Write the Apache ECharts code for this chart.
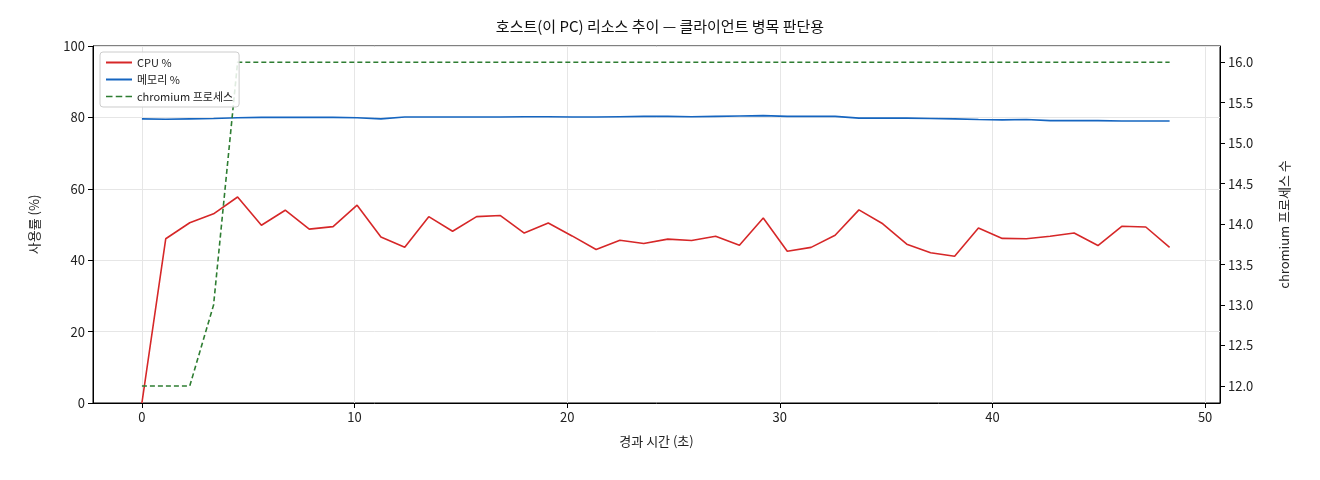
<!DOCTYPE html><html><head><meta charset="utf-8"><script src="https://cdn.jsdelivr.net/npm/echarts@6/dist/echarts.min.js"></script>
<style>body{margin:0}#c{width:1320px;height:480px}</style></head><body><div id="c"></div><script>
const times=[0,1.12,2.25,3.37,4.5,5.62,6.74,7.87,8.99,10.12,11.24,12.36,13.49,14.61,15.74,16.86,17.98,19.11,20.23,21.36,22.48,23.6,24.73,25.85,26.98,28.1,29.22,30.35,31.47,32.6,33.72,34.84,35.97,37.09,38.22,39.34,40.46,41.59,42.71,43.84,44.96,46.08,47.21,48.33];
const cpu=[0,46,50.5,53,57.7,49.8,54,48.7,49.4,55.4,46.5,43.6,52.2,48.1,52.2,52.5,47.6,50.4,46.8,43,45.6,44.7,45.9,45.5,46.7,44.2,51.8,42.5,43.6,47,54.1,50.2,44.5,42.1,41.1,49,46.1,46,46.7,47.6,44.1,49.5,49.3,43.6];
const mem=[79.6,79.5,79.6,79.7,79.9,80,80,80,80,79.9,79.6,80.1,80.1,80.1,80.1,80.1,80.2,80.2,80.1,80.1,80.2,80.3,80.3,80.2,80.3,80.4,80.5,80.3,80.3,80.3,79.8,79.8,79.8,79.7,79.6,79.4,79.3,79.4,79.1,79.1,79.1,79,79,79];
const procs=[12,12,12,13,16,16,16,16,16,16,16,16,16,16,16,16,16,16,16,16,16,16,16,16,16,16,16,16,16,16,16,16,16,16,16,16,16,16,16,16,16,16,16,16];
const rightTicks=[12,12.5,13,13.5,14,14.5,15,15.5,16];
const xTicks=[0,10,20,30,40,50];
const z=(a,b)=>a.map((v,i)=>[times[i],b[i]]);
const f='"Noto Sans CJK KR", "DejaVu Sans", sans-serif';
const ax={color:'#222',fontFamily:f,fontSize:13};
echarts.init(document.getElementById('c')).setOption({
 animation:false,textStyle:{fontFamily:f},
 title:{text:'호스트(이 PC) 리소스 추이 — 클라이언트 병목 판단용',left:'center',top:14,textStyle:{fontSize:15,fontWeight:'normal',color:'#111',fontFamily:f}},
 grid:{left:93,right:100,top:46,bottom:77,show:true,borderColor:'#000',borderWidth:1},
 legend:{left:100,top:52,orient:'vertical',itemGap:6,itemWidth:26,itemHeight:2,backgroundColor:'rgba(255,255,255,0.85)',borderColor:'#ccc',borderWidth:1,borderRadius:3,padding:[5,6],textStyle:{fontSize:11,color:'#222',fontFamily:f},
  data:[{name:'CPU %',icon:'rect'},{name:'메모리 %',icon:'rect'},{name:'chromium 프로세스',icon:'path://M0,0h4v1h-4zM6,0h4v1h-4zM12,0h4v1h-4z'}]},
 xAxis:{type:'value',min:-2.3,max:50.7,name:'경과 시간 (초)',nameLocation:'middle',nameGap:32,nameTextStyle:{fontSize:13,color:'#222'},
  axisLine:{onZero:false,lineStyle:{color:'#000'}},axisTick:{customValues:xTicks,lineStyle:{color:'#000'}},axisLabel:Object.assign({customValues:xTicks},ax),
  splitLine:{show:true,lineStyle:{color:'#e6e6e6'}}},
 yAxis:[{type:'value',min:0,max:100,interval:20,name:'사용률 (%)',nameLocation:'middle',nameGap:52,nameTextStyle:{fontSize:13,color:'#222'},
  axisLine:{show:true,onZero:false,lineStyle:{color:'#000'}},axisTick:{show:true,lineStyle:{color:'#000'}},axisLabel:ax,splitLine:{lineStyle:{color:'#e6e6e6'}}},
  {type:'value',min:11.79,max:16.2,name:'chromium 프로세스 수',nameLocation:'middle',nameGap:58,nameRotate:90,nameTextStyle:{fontSize:13,color:'#222'},
  axisLine:{show:true,onZero:false,lineStyle:{color:'#000'}},axisTick:{show:true,customValues:rightTicks,lineStyle:{color:'#000'}},axisLabel:Object.assign({customValues:rightTicks,formatter:v=>v.toFixed(1)},ax),splitLine:{show:false}}],
 series:[
  {name:'CPU %',type:'line',data:z(times,cpu),showSymbol:false,lineStyle:{color:'#d62728',width:1.6},itemStyle:{color:'#d62728'}},
  {name:'메모리 %',type:'line',data:z(times,mem),showSymbol:false,lineStyle:{color:'#1565c0',width:1.6},itemStyle:{color:'#1565c0'}},
  {name:'chromium 프로세스',type:'line',yAxisIndex:1,data:z(times,procs),showSymbol:false,lineStyle:{color:'#2e7d32',width:1.6,type:[5,3]},itemStyle:{color:'#2e7d32'}}
 ]});
</script></body></html>
